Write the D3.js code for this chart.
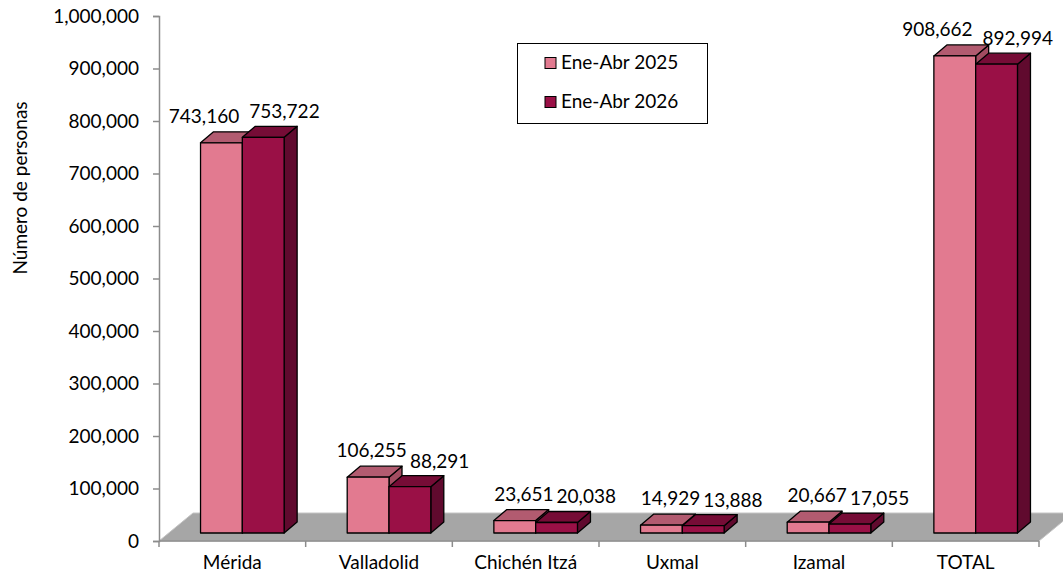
<!DOCTYPE html>
<html>
<head>
<meta charset="utf-8">
<script src="https://cdn.jsdelivr.net/npm/d3@7"></script>
<style>
  html, body { margin: 0; padding: 0; background: #ffffff; }
  svg { display: block; }
  text { font-family: Lato, "Noto Sans", sans-serif; fill: #000; }
</style>
</head>
<body>
<svg id="chart" width="1063" height="575"></svg>
<script>
const categories = ["Mérida", "Valladolid", "Chichén Itzá", "Uxmal", "Izamal", "TOTAL"];
const seriesNames = ["Ene-Abr 2025", "Ene-Abr 2026"];
const values2025 = [743160, 106255, 23651, 14929, 20667, 908662];
const values2026 = [753722, 88291, 20038, 13888, 17055, 892994];
const yTicks = [0, 100000, 200000, 300000, 400000, 500000, 600000, 700000, 800000, 900000, 1000000];
const axisTitle = "Número de personas";

const W = 1063, H = 575;
const svg = d3.select("#chart");
const fmt = d3.format(",");
const FS = 19;

const colors = {
  "Ene-Abr 2025": { front: "#e27a90", top: "#b25b70", side: "#a24c61" },
  "Ene-Abr 2026": { front: "#9a1046", top: "#760c36", side: "#600a2e" }
};

const plotLeft = 159, plotRight = 1039, plotTop = 16, plotBottom = 541;
const x0 = d3.scaleBand().domain(categories).range([plotLeft, plotRight]).paddingInner(0.43).paddingOuter(0.215);
const x1 = d3.scaleBand().domain(seriesNames).range([0, x0.bandwidth()]);
const y = d3.scaleLinear().domain([0, 1000000]).range([plotBottom, plotTop]);

const floorDepth = { dx: 34, dy: -28 };
const barShift = { dx: 10, dy: -8 };
const barDepth = { dx: 13, dy: -11 };

// floor
svg.append("polygon")
  .attr("points", [
    [plotLeft, y(0)], [plotRight, y(0)],
    [plotRight + floorDepth.dx, y(0) + floorDepth.dy],
    [plotLeft + floorDepth.dx, y(0) + floorDepth.dy]
  ].map(p => p.join(",")).join(" "))
  .attr("fill", "#a6a6a6")
  .attr("stroke", "#c4c4c4")
  .attr("stroke-width", 1);

// y axis
const yAxis = d3.axisLeft(y).tickValues(yTicks).tickFormat(fmt).tickSize(6).tickPadding(14);
const gy = svg.append("g").attr("transform", `translate(${plotLeft},0)`).call(yAxis);
gy.select(".domain").attr("stroke", "#8c8c8c").attr("stroke-width", 1.5);
gy.selectAll(".tick line").attr("stroke", "#8c8c8c").attr("stroke-width", 1.5);
gy.selectAll(".tick text").attr("font-family", "Lato, sans-serif").attr("font-size", FS).attr("fill", "#000");

// x axis (line + ticks at band boundaries)
const xg = svg.append("g");
xg.append("line").attr("x1", plotLeft).attr("x2", plotRight).attr("y1", y(0)).attr("y2", y(0))
  .attr("stroke", "#8c8c8c").attr("stroke-width", 1.5);
const bounds = d3.range(categories.length + 1).map(i => plotLeft + i * (plotRight - plotLeft) / categories.length);
xg.selectAll("line.xt").data(bounds).join("line").attr("class", "xt")
  .attr("x1", d => d).attr("x2", d => d).attr("y1", y(0)).attr("y2", y(0) + 6)
  .attr("stroke", "#8c8c8c").attr("stroke-width", 1.5);
xg.selectAll("text.cat").data(categories).join("text").attr("class", "cat")
  .attr("x", d => x0(d) + x0.bandwidth() / 2)
  .attr("y", 569)
  .attr("text-anchor", "middle")
  .attr("font-size", FS)
  .text(d => d);

// bars
const data = categories.map((c, i) => ({ cat: c, vals: [values2025[i], values2026[i]] }));
const bw = x1.bandwidth();
const gBars = svg.append("g");
data.forEach(d => {
  seriesNames.forEach((s, si) => {
    const v = d.vals[si];
    const fx = x0(d.cat) + x1(s) + barShift.dx;
    const yb = y(0) + barShift.dy;
    const yt = y(v) + barShift.dy;
    const c = colors[s];
    const g = gBars.append("g").attr("stroke", "#000").attr("stroke-width", 1.3).attr("stroke-linejoin", "round");
    g.append("polygon").attr("fill", c.side).attr("points", [
      [fx + bw, yt], [fx + bw + barDepth.dx, yt + barDepth.dy],
      [fx + bw + barDepth.dx, yb + barDepth.dy], [fx + bw, yb]
    ].map(p => p.join(",")).join(" "));
    g.append("polygon").attr("fill", c.top).attr("points", [
      [fx, yt], [fx + bw, yt], [fx + bw + barDepth.dx, yt + barDepth.dy], [fx + barDepth.dx, yt + barDepth.dy]
    ].map(p => p.join(",")).join(" "));
    g.append("rect").attr("fill", c.front).attr("x", fx).attr("y", yt).attr("width", bw).attr("height", yb - yt);
  });
});

// value labels
const gLab = svg.append("g");
data.forEach(d => {
  const darkCenter = x0(d.cat) + x1(seriesNames[1]) + barShift.dx + bw / 2;
  const tall = Math.max(...d.vals) > 500000;
  const lightEnd = darkCenter - (tall ? 24 : 3);
  const darkStart = darkCenter + (tall ? -14 : 0);
  gLab.append("text").attr("x", lightEnd).attr("y", y(d.vals[0]) + barShift.dy - 20)
    .attr("text-anchor", "end").attr("font-size", FS).text(fmt(d.vals[0]));
  gLab.append("text").attr("x", darkStart).attr("y", y(d.vals[1]) + barShift.dy - 19)
    .attr("text-anchor", "start").attr("font-size", FS).text(fmt(d.vals[1]));
});

// axis title
svg.append("text")
  .attr("transform", "translate(27,188) rotate(-90)")
  .attr("text-anchor", "middle")
  .attr("font-family", "'Open Sans', sans-serif")
  .attr("font-size", 19)
  .text(axisTitle);

// legend
const lg = svg.append("g");
lg.append("rect").attr("x", 517.5).attr("y", 43.5).attr("width", 190).attr("height", 80)
  .attr("fill", "#fff").attr("stroke", "#000").attr("stroke-width", 1);
seriesNames.forEach((s, i) => {
  const cy = 63 + i * 39;
  lg.append("rect").attr("x", 545).attr("y", cy - 5.5).attr("width", 11).attr("height", 11)
    .attr("fill", colors[s].front).attr("stroke", "#000").attr("stroke-width", 1);
  lg.append("text").attr("x", 561).attr("y", cy + 6).attr("font-size", FS).text(s);
});
</script>
</body>
</html>
